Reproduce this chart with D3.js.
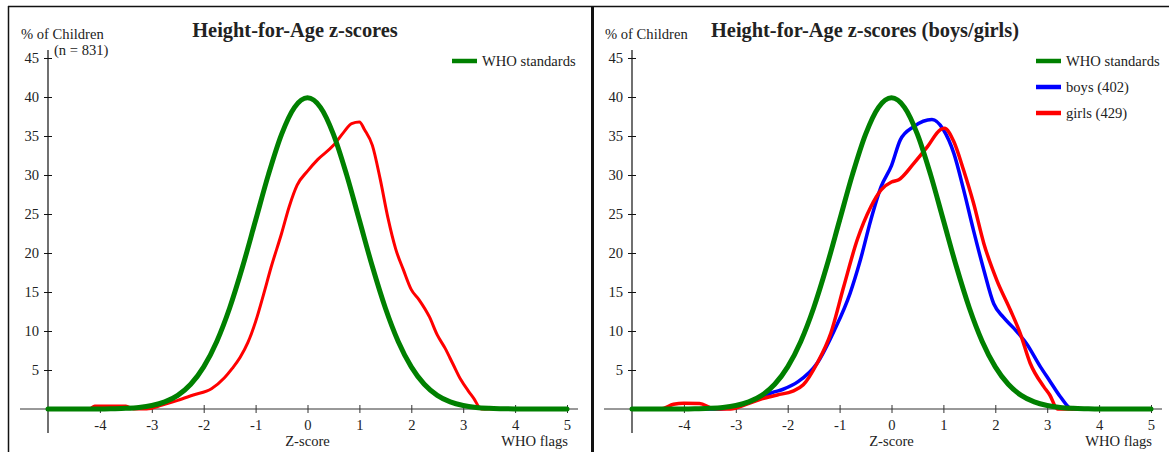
<!DOCTYPE html>
<html>
<head>
<meta charset="utf-8">
<script src="https://cdn.jsdelivr.net/npm/d3@7"></script>
<style>
  body { margin: 0; background: #fff; }
  text { font-family: "Liberation Serif", "Times New Roman", serif; fill: #222; }
</style>
</head>
<body>
<script>
// tick labels
var zTicks = [-4, -3, -2, -1, 0, 1, 2, 3, 4, 5];
var pctTicks = [5, 10, 15, 20, 25, 30, 35, 40, 45];

// WHO reference curve (% of children by z-score)
var whoZ = [-5, -4.75, -4.5, -4.25, -4, -3.75, -3.5, -3.25, -3, -2.75, -2.5, -2.25, -2, -1.75, -1.5, -1.25, -1, -0.75, -0.5, -0.25,
            0, 0.25, 0.5, 0.75, 1, 1.25, 1.5, 1.75, 2, 2.25, 2.5, 2.75, 3, 3.25, 3.5, 3.75, 4, 4.25, 4.5, 4.75, 5];
var whoPct = [0, 0, 0, 0.01, 0.01, 0.04, 0.09, 0.2, 0.44, 0.91, 1.75, 3.17, 5.4, 8.63, 12.95, 18.26, 24.2, 30.11, 35.21, 38.67,
              39.89, 38.67, 35.21, 30.11, 24.2, 18.26, 12.95, 8.63, 5.4, 3.17, 1.75, 0.91, 0.44, 0.2, 0.09, 0.04, 0.01, 0.01, 0, 0, 0];

// all children (n = 831)
var allZ = [-5, -4.2, -4.1, -3.5, -3.35, -3.1, -2.8, -2.5, -2.2, -1.85, -1.6, -1.45, -1.3, -1.15, -1, -0.85, -0.7, -0.5, -0.35, -0.2,
            0, 0.2, 0.5, 0.7, 0.85, 1, 1.1, 1.25, 1.4, 1.55, 1.7, 1.85, 2, 2.15, 2.35, 2.5, 2.65, 2.8, 2.95, 3.1, 3.2, 3.35, 5];
var allPct = [0, 0, 0.4, 0.4, 0, 0, 0.5, 1.1, 1.8, 2.6, 4, 5.2, 6.6, 8.5, 11.2, 14.6, 18.2, 22.5, 26, 28.7,
              30.5, 32, 33.8, 35.5, 36.6, 36.8, 35.8, 33.8, 29.5, 24.5, 20.5, 17.8, 15.3, 14, 11.8, 9.5, 7.8, 5.8, 3.8, 2.3, 1.4, 0, 0];

// boys (402)
var boysZ = [-5, -3.3, -3, -2.7, -2.5, -2.3, -2.1, -1.8, -1.43, -1.1, -0.8, -0.6, -0.4, -0.2, 0, 0.17, 0.43, 0.78,
             1, 1.2, 1.39, 1.58, 1.78, 1.97, 2.15, 2.35, 2.6, 2.87, 3.05, 3.25, 3.48, 5];
var boysPct = [0, 0, 0.3, 0.9, 1.5, 2.1, 2.5, 3.5, 5.9, 10.1, 14.8, 19.1, 24.2, 28.5, 31.2, 34.5, 36.2, 37.1,
               35.8, 32.8, 28.1, 22.9, 17.8, 13.5, 11.8, 10.4, 8.4, 5.4, 3.6, 1.6, 0, 0];

// girls (429)
var girlsZ = [-5, -4.45, -4.2, -4, -3.7, -3.45, -3.3, -3.1, -2.8, -2.5, -2.2, -1.9, -1.7, -1.43, -1.17, -0.92, -0.66, -0.4, -0.2,
              0, 0.14, 0.43, 0.69, 0.94, 1.02, 1.2, 1.39, 1.58, 1.78, 2.03, 2.29, 2.48, 2.67, 2.93, 3.05, 3.2, 5];
var girlsPct = [0, 0, 0.6, 0.75, 0.7, 0.1, 0, 0, 0.6, 1.3, 1.8, 2.3, 3.1, 5.9, 9.7, 15.7, 21.7, 25.9, 28.1,
                29.1, 29.4, 31.5, 33.6, 35.8, 36, 34.3, 30.6, 26.4, 21.2, 16.5, 12.7, 9.7, 5.9, 2.9, 1.8, 0, 0];

var green = "#008000", red = "#ff0000", blue = "#0000ff";
var small = "14.6px";

var w = 1169;
var h = 452;

var svg = d3.select('body')
            .append('svg')
            .attr('width', w)
            .attr('height', h);

// frame round the two panels
svg.append("line").attr("x1", 8).attr("x2", w).attr("y1", 6.5).attr("y2", 6.5)
   .attr("stroke", "#111").attr("stroke-width", 1.5);
svg.append("line").attr("x1", 8.5).attr("x2", 8.5).attr("y1", 6).attr("y2", h)
   .attr("stroke", "#111").attr("stroke-width", 1.5);
svg.append("line").attr("x1", 592.5).attr("x2", 592.5).attr("y1", 6).attr("y2", h)
   .attr("stroke", "#111").attr("stroke-width", 3);

function drawPanel(dx, title, titleX, showN, series, legend) {
  var g = svg.append("g");

  var x = d3.scaleLinear().domain([-5, 5]).range([48 + dx, 567 + dx]);
  var y = d3.scaleLinear().domain([0, 45]).range([409, 58]);

  // axes lines
  g.append("line").attr("x1", 20 + dx).attr("x2", 578 + dx).attr("y1", y(0)).attr("y2", y(0))
   .attr("stroke", "#333").attr("stroke-width", 1);
  g.append("line").attr("x1", x(-5)).attr("x2", x(-5)).attr("y1", 50).attr("y2", 433)
   .attr("stroke", "#111").attr("stroke-width", 1.2);

  // y axis
  var yAxis = g.append("g")
               .attr("transform", "translate(" + x(-5) + ",0)")
               .call(d3.axisLeft(y).tickValues(pctTicks).tickFormat(d3.format("d")).tickSizeOuter(0));
  yAxis.select(".domain").remove();
  yAxis.selectAll(".tick line").attr("x1", -4).attr("x2", 4).attr("stroke", "#111");
  yAxis.selectAll(".tick text").attr("x", -9).style("font-size", small).attr("fill", "#222");

  // x axis
  var xAxis = g.append("g")
               .attr("transform", "translate(0," + y(0) + ")")
               .call(d3.axisBottom(x).tickValues(zTicks).tickFormat(function (d) { return String(d); }).tickSizeOuter(0));
  xAxis.select(".domain").remove();
  xAxis.selectAll(".tick line").attr("y1", -4).attr("y2", 4).attr("stroke", "#333");
  xAxis.selectAll(".tick text").attr("y", 11).style("font-size", small).attr("fill", "#222");

  // labels
  g.append("text").attr("x", 21 + dx).attr("y", 39).style("font-size", small).text("% of Children");
  if (showN) {
    g.append("text").attr("x", 54 + dx).attr("y", 55).style("font-size", small).text(showN);
  }
  g.append("text").attr("x", x(0)).attr("y", 446).attr("text-anchor", "middle")
   .style("font-size", small).text("Z-score");
  g.append("text").attr("x", x(5) + 1).attr("y", 446).attr("text-anchor", "end")
   .style("font-size", small).text("WHO flags");

  g.append("text").attr("x", titleX).attr("y", 37).attr("text-anchor", "middle")
   .style("font-size", "20.4px").style("font-weight", "bold").attr("fill", "#111").text(title);

  // curves
  var line = d3.line()
               .x(function (d) { return x(d[0]); })
               .y(function (d) { return y(d[1]); })
               .curve(d3.curveMonotoneX);

  series.forEach(function (s) {
    g.append("path")
     .datum(d3.zip(s.z, s.v))
     .attr("d", line)
     .attr("fill", "none")
     .attr("stroke", s.color)
     .attr("stroke-width", s.width)
     .attr("stroke-linejoin", "round")
     .attr("stroke-linecap", "round");
  });

  // legend
  legend.forEach(function (l, i) {
    var ly = 61 + i * 26;
    g.append("line").attr("x1", 452 + dx).attr("x2", 477 + dx).attr("y1", ly).attr("y2", ly)
     .attr("stroke", l.color).attr("stroke-width", 4.5);
    g.append("text").attr("x", 482 + dx).attr("y", ly + 4.5).style("font-size", small).text(l.label);
  });
}

drawPanel(0, "Height-for-Age z-scores", 295, "(n = 831)",
  [
    { z: allZ, v: allPct, color: red, width: 3 },
    { z: whoZ, v: whoPct, color: green, width: 5 }
  ],
  [ { label: "WHO standards", color: green } ]);

drawPanel(584, "Height-for-Age z-scores (boys/girls)", 865, null,
  [
    { z: boysZ, v: boysPct, color: blue, width: 3.5 },
    { z: girlsZ, v: girlsPct, color: red, width: 3.5 },
    { z: whoZ, v: whoPct, color: green, width: 5 }
  ],
  [
    { label: "WHO standards", color: green },
    { label: "boys (402)", color: blue },
    { label: "girls (429)", color: red }
  ]);
</script>
</body>
</html>
